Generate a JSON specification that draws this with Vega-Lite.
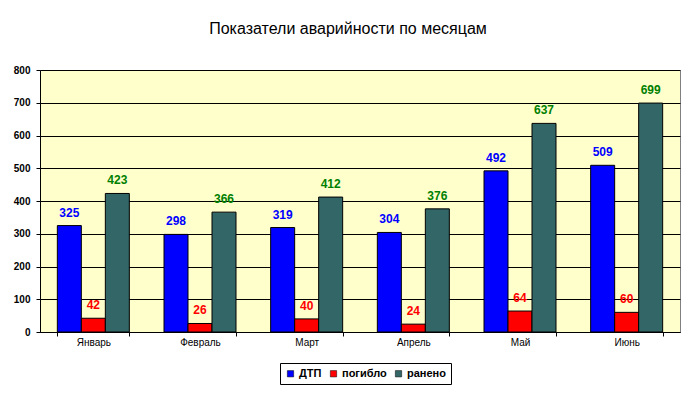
{
  "$schema": "https://vega.github.io/schema/vega-lite/v6.json",
  "width": 640,
  "height": 262,
  "autosize": {"type": "none"},
  "padding": {"left": 40, "top": 70, "right": 16, "bottom": 64},
  "background": "white",
  "config": {
    "font": "Liberation Sans",
    "view": {"fill": "#FFFFCC", "stroke": "#808080", "strokeWidth": 1}
  },
  "title": {
    "text": "Показатели аварийности по месяцам",
    "fontSize": 16,
    "fontWeight": "normal",
    "font": "Liberation Sans",
    "color": "black",
    "anchor": "middle",
    "dx": -12,
    "offset": 28
  },
  "data": {
    "values": [
      {"month": "Январь", "series": "ДТП", "value": 325},
      {"month": "Январь", "series": "погибло", "value": 42},
      {"month": "Январь", "series": "ранено", "value": 423},
      {"month": "Февраль", "series": "ДТП", "value": 298},
      {"month": "Февраль", "series": "погибло", "value": 26},
      {"month": "Февраль", "series": "ранено", "value": 366},
      {"month": "Март", "series": "ДТП", "value": 319},
      {"month": "Март", "series": "погибло", "value": 40},
      {"month": "Март", "series": "ранено", "value": 412},
      {"month": "Апрель", "series": "ДТП", "value": 304},
      {"month": "Апрель", "series": "погибло", "value": 24},
      {"month": "Апрель", "series": "ранено", "value": 376},
      {"month": "Май", "series": "ДТП", "value": 492},
      {"month": "Май", "series": "погибло", "value": 64},
      {"month": "Май", "series": "ранено", "value": 637},
      {"month": "Июнь", "series": "ДТП", "value": 509},
      {"month": "Июнь", "series": "погибло", "value": 60},
      {"month": "Июнь", "series": "ранено", "value": 699}
    ]
  },
  "encoding": {
    "x": {
      "field": "month",
      "type": "nominal",
      "sort": null,
      "scale": {"paddingInner": 0.325, "paddingOuter": 0.1625},
      "axis": {
        "title": null,
        "labelAngle": 0,
        "labelFontSize": 10,
        "labelColor": "black",
        "labelPadding": 1,
        "domainColor": "black",
        "tickColor": "black",
        "tickBand": "extent",
        "tickSize": 4,
        "grid": false
      }
    },
    "xOffset": {
      "field": "series",
      "type": "nominal",
      "scale": {"domain": ["ДТП", "погибло", "ранено"], "padding": 0}
    },
    "y": {
      "field": "value",
      "type": "quantitative",
      "scale": {"domain": [0, 800], "nice": false},
      "axis": {
        "title": null,
        "values": [0, 100, 200, 300, 400, 500, 600, 700, 800],
        "labelFontSize": 10,
        "labelFontWeight": "bold",
        "labelColor": "black",
        "labelPadding": 6,
        "domainColor": "black",
        "tickColor": "black",
        "tickSize": 4,
        "gridColor": "black",
        "gridOpacity": 1
      }
    }
  },
  "layer": [
    {
      "mark": {"type": "bar", "stroke": "black", "strokeWidth": 1},
      "encoding": {
        "color": {
          "field": "series",
          "type": "nominal",
          "scale": {"domain": ["ДТП", "погибло", "ранено"], "range": ["#0000FF", "#FF0000", "#336666"]},
          "legend": {
            "title": null,
            "orient": "none",
            "direction": "horizontal",
            "legendX": 240,
            "legendY": 293,
            "symbolType": "square",
            "symbolSize": 40,
            "symbolStrokeColor": "black",
            "symbolStrokeWidth": 0.5,
            "labelFontSize": 11,
            "labelFontWeight": "bold",
            "labelColor": "black",
            "labelOffset": 3,
            "columnPadding": 6,
            "strokeColor": "black",
            "padding": 5,
            "fillColor": "white"
          }
        }
      }
    },
    {
      "mark": {"type": "text", "baseline": "alphabetic", "dy": -9, "fontSize": 12, "fontWeight": "bold"},
      "encoding": {
        "text": {"field": "value", "type": "quantitative"},
        "color": {
          "field": "series",
          "type": "nominal",
          "scale": {"domain": ["ДТП", "погибло", "ранено"], "range": ["#0000FF", "#FF0000", "#008000"]},
          "legend": null
        }
      }
    }
  ],
  "resolve": {"scale": {"color": "independent"}}
}
